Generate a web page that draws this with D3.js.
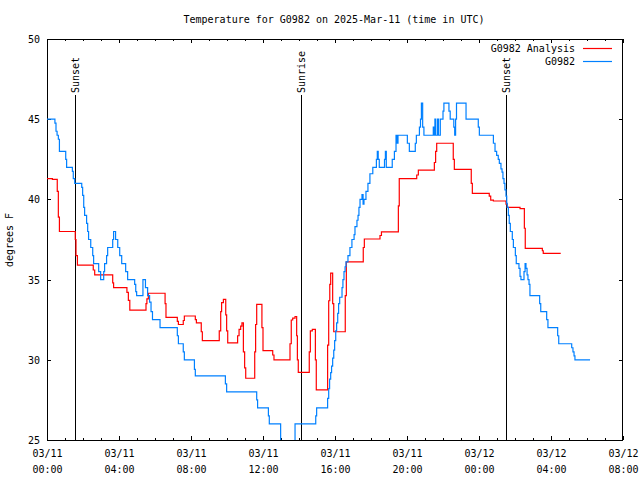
<!DOCTYPE html>
<html><head><meta charset="utf-8">
<script src="https://cdn.jsdelivr.net/npm/d3@7"></script>
<style>
html,body{margin:0;padding:0;background:#fff;}
svg text{font-family:"DejaVu Sans Mono","Liberation Mono",monospace;font-size:10px;fill:#000;}
</style></head>
<body>
<svg id="c" width="640" height="480"></svg>
<script>
// hours since 2025-03-11 00:00 UTC
const blueHours = [0,0.44,0.5,0.56,0.63,0.69,1.04,1.09,1.41,1.46,1.54,1.93,1.98,2.04,2.09,2.2,2.26,2.31,2.43,2.54,2.59,2.87,2.98,3.15,3.2,3.31,3.37,3.65,3.7,3.81,3.93,4.04,4.15,4.37,4.48,4.87,4.93,4.98,5.33,5.47,5.59,5.7,5.78,5.86,6.28,7.24,7.3,7.57,7.63,8.19,8.24,9.91,9.98,11.65,11.7,12.3,12.35,12.98,13.78,14.93,14.98,15.59,15.65,15.7,15.76,15.81,15.87,15.93,15.98,16.04,16.09,16.15,16.2,16.26,16.39,16.44,16.5,16.56,16.61,16.72,16.83,16.94,17.06,17.11,17.22,17.28,17.33,17.39,17.5,17.56,17.61,17.72,17.83,17.94,18.1,18.3,18.35,18.4,18.46,18.75,18.8,18.85,19.18,19.3,19.39,19.45,19.5,20.02,20.13,20.46,20.52,20.69,20.75,20.8,20.87,20.94,21.46,21.5,21.55,21.6,21.7,21.75,21.85,22.0,22.05,22.33,22.4,22.6,22.65,22.7,22.75,23.28,23.96,24.02,24.8,24.89,24.98,25.07,25.13,25.22,25.28,25.33,25.39,25.44,25.5,25.54,25.57,25.63,25.68,25.74,25.85,25.91,26.02,26.07,26.22,26.28,26.33,26.5,26.56,26.61,26.67,26.72,26.78,26.83,27.37,27.43,27.76,27.83,28.37,28.43,29.15,29.22,29.28,29.33,30.17];
const blueTemps = [45.0,44.75,44.25,44.0,43.75,43.0,42.5,42.0,41.75,41.3,41.0,40.75,40.25,39.5,39.0,38.5,38.0,37.5,37.0,36.5,36.0,35.5,35.0,35.5,36.0,36.5,37.0,37.5,38.0,37.5,37.0,36.5,36.0,35.5,35.0,34.7,34.25,34.0,35.0,34.5,34.0,33.6,33.0,32.5,32.0,31.5,31.0,30.5,30.0,29.4,29.0,28.5,28.0,27.5,27.0,26.5,26.0,24.3,26.0,26.5,27.0,27.6,28.2,28.8,29.2,29.6,30.1,30.6,31.2,31.8,32.3,32.9,33.5,33.9,34.5,35.0,35.5,35.8,36.1,36.5,37.0,37.5,37.8,38.3,38.7,39.0,39.5,40.0,40.3,39.7,40.0,40.5,41.0,41.6,42.0,42.5,43.0,42.5,42.0,42.5,43.0,42.0,42.5,43.0,44.0,43.5,44.0,43.5,43.0,43.5,44.0,44.5,45.0,46.0,44.5,44.0,44.5,44.0,45.0,44.0,45.0,44.0,45.0,45.5,46.0,45.5,45.0,44.5,44.0,45.0,46.0,45.0,44.5,44.0,43.5,43.0,42.75,42.5,42.25,41.9,41.7,41.3,41.0,40.6,40.2,39.75,39.5,39.0,38.5,38.0,37.5,37.0,36.5,36.0,35.7,35.2,35.0,35.5,36.0,35.7,35.3,35.0,34.7,34.0,33.5,33.0,32.5,32.0,31.5,31.0,30.75,30.5,30.25,30.0,30.0];

const redHours = [0,0.3,0.57,0.63,0.69,1.57,1.61,1.69,2.57,2.65,3.65,3.7,4.44,4.52,4.6,5.5,5.55,5.63,6.56,6.61,7.24,7.3,7.57,7.63,8.24,8.3,8.57,8.63,9.57,9.65,9.7,9.8,9.93,9.98,10.04,10.59,10.67,10.76,10.83,10.91,10.98,11.04,11.54,11.59,11.65,11.94,12.0,12.54,12.61,13.5,13.57,13.65,13.78,13.87,13.91,13.96,14.57,14.63,14.74,14.91,14.96,15.59,15.65,15.71,15.76,15.87,15.93,16.57,16.63,17.57,17.63,18.5,18.58,19.52,19.57,20.54,20.63,21.52,21.59,21.65,22.57,22.63,23.57,23.63,24.57,24.65,24.8,25.5,25.57,26.28,26.52,26.57,27.52,27.57,28.54];
const redTemps = [41.3,41.25,40.5,38.9,38.0,37.5,36.5,35.9,35.6,35.3,34.8,34.5,34.2,33.7,33.1,33.5,33.8,34.15,33.5,32.65,32.4,32.2,32.45,32.73,32.5,32.3,31.75,31.2,31.8,33.0,33.56,33.77,32.8,31.8,31.05,31.5,31.9,32.1,32.3,30.5,29.5,28.85,30.5,32.2,33.45,32.0,30.57,30.3,30.0,31.0,32.48,32.6,32.7,31.5,30.0,29.22,30.5,31.8,31.9,30.0,28.12,30.92,33.68,34.7,35.4,33.5,31.75,34.0,36.1,37.0,37.53,37.75,37.97,39.6,41.3,41.52,41.83,42.3,43.0,43.5,42.5,41.87,41.0,40.38,40.2,39.96,39.9,39.7,39.5,39.42,38.2,36.95,36.8,36.64,36.64];

const eventNames = ["Sunset","Sunrise","Sunset"];
const eventHours = [1.57,14.13,25.52];

const xTickHours = [0,4,8,12,16,20,24,28,32];
const xTickDates = ["03/11","03/11","03/11","03/11","03/11","03/11","03/12","03/12","03/12"];
const xTickTimes = ["00:00","04:00","08:00","12:00","16:00","20:00","00:00","04:00","08:00"];
const yTicks = [25,30,35,40,45,50];

const seriesNames = ["G0982 Analysis","G0982"];
const seriesColors = ["#ff0000","#0080ff"];

const base = Date.UTC(2025,2,11,0,0,0);
const toDate = h => new Date(base + h*3600000);

const L=47,R=623,T=39,B=440;
const svg = d3.select("#c");
const x = d3.scaleUtc().domain([toDate(0),toDate(32)]).range([L,R]);
const y = d3.scaleLinear().domain([25,50]).range([B,T]);

svg.append("defs").append("clipPath").attr("id","clip")
  .append("rect").attr("x",L).attr("y",T).attr("width",R-L).attr("height",B-T);

// axes
const minorHours = d3.range(0,33);
svg.append("g").attr("transform",`translate(0,${B})`)
  .call(d3.axisBottom(x).tickValues(minorHours.map(toDate)).tickSize(-2).tickFormat(""))
  .call(g=>{g.select(".domain").remove();g.selectAll("line").attr("stroke","#000").attr("shape-rendering","crispEdges");});
svg.append("g").attr("transform",`translate(0,${T})`)
  .call(d3.axisTop(x).tickValues(minorHours.map(toDate)).tickSize(-2).tickFormat(""))
  .call(g=>{g.select(".domain").remove();g.selectAll("line").attr("stroke","#000").attr("shape-rendering","crispEdges");});
svg.append("g").attr("transform",`translate(0,${T})`)
  .call(d3.axisTop(x).tickValues(xTickHours.map(toDate)).tickSize(-4).tickFormat(""))
  .call(g=>{g.select(".domain").remove();g.selectAll("line").attr("stroke","#000").attr("shape-rendering","crispEdges");});

const xa = svg.append("g").attr("transform",`translate(0,${B})`)
  .call(d3.axisBottom(x).tickValues(xTickHours.map(toDate)).tickSize(-4).tickPadding(0).tickFormat(""));
xa.select(".domain").remove();
xa.selectAll("line").attr("stroke","#000").attr("shape-rendering","crispEdges");
xa.selectAll(".tick").each(function(d,i){
  const t = d3.select(this).select("text").attr("y",0).attr("dy",null);
  t.append("tspan").attr("x",0).attr("y",17).text(xTickDates[i]);
  t.append("tspan").attr("x",0).attr("y",33).text(xTickTimes[i]);
});
xa.selectAll("text").attr("font-family",null).attr("font-size",null).attr("fill","#000");

const ya = svg.append("g").attr("transform",`translate(${L},0)`)
  .call(d3.axisLeft(y).tickValues(yTicks).tickSize(-4).tickPadding(7));
ya.select(".domain").remove();
ya.selectAll("line").attr("stroke","#000").attr("shape-rendering","crispEdges");
ya.selectAll("text").attr("font-family",null).attr("font-size",null).attr("fill","#000").attr("dy","0.35em");
svg.append("g").attr("transform",`translate(${R},0)`)
  .call(d3.axisRight(y).tickValues(yTicks).tickSize(-4).tickFormat(""))
  .call(g=>{g.select(".domain").remove();g.selectAll("line").attr("stroke","#000").attr("shape-rendering","crispEdges");});

// border
svg.append("rect").attr("x",L+0.5).attr("y",T+0.5).attr("width",R-L-1).attr("height",B-T)
  .attr("fill","none").attr("stroke","#000").attr("shape-rendering","crispEdges");

// event lines
const ev = svg.append("g");
eventHours.forEach((h,i)=>{
  const xx = Math.round(x(toDate(h)))+0.5;
  ev.append("line").attr("x1",xx).attr("x2",xx).attr("y1",95).attr("y2",B)
    .attr("stroke","#000").attr("shape-rendering","crispEdges");
  ev.append("text").attr("transform",`translate(${xx+3.5},93) rotate(-90)`)
    .attr("text-anchor","start").text(eventNames[i]);
});

// data lines
const line = d3.line().curve(d3.curveStepAfter).x(d=>x(toDate(d[0]))).y(d=>y(d[1]));
const gData = svg.append("g").attr("clip-path","url(#clip)");
gData.append("path").datum(redHours.map((h,i)=>[h,redTemps[i]]))
  .attr("d",line).attr("fill","none").attr("stroke",seriesColors[0]).attr("stroke-width",1.2);
gData.append("path").datum(blueHours.map((h,i)=>[h,blueTemps[i]]))
  .attr("d",line).attr("fill","none").attr("stroke",seriesColors[1]).attr("stroke-width",1.2);

// title and labels
svg.append("text").attr("x",334).attr("y",23).attr("text-anchor","middle")
  .text("Temperature for G0982 on 2025-Mar-11 (time in UTC)");
svg.append("text").attr("transform","translate(13,240) rotate(-90)").attr("text-anchor","middle")
  .text("degrees F");

// legend
seriesNames.forEach((n,i)=>{
  const yy = 52 + i*13;
  svg.append("text").attr("x",575).attr("y",yy).attr("text-anchor","end").text(n);
  svg.append("line").attr("x1",583).attr("x2",612).attr("y1",yy-3.5).attr("y2",yy-3.5)
    .attr("stroke",seriesColors[i]).attr("stroke-width",1.2);
});
</script>
</body></html>
